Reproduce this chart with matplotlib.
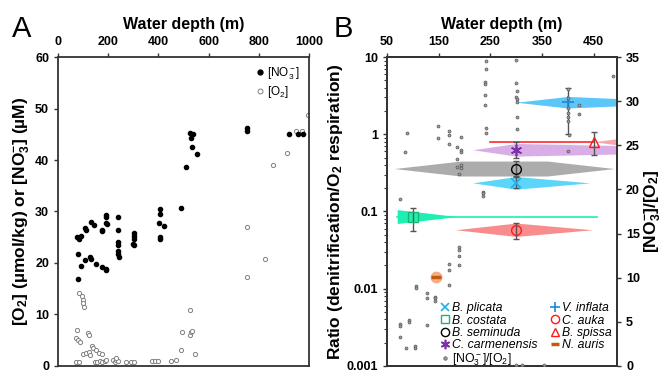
import numpy as np
import matplotlib.pyplot as plt
from matplotlib.lines import Line2D

plt.rcParams['font.family'] = ['Liberation Sans', 'DejaVu Sans']
plt.rcParams['mathtext.fontset'] = 'custom'
plt.rcParams['mathtext.rm'] = 'Liberation Sans'
plt.rcParams['mathtext.it'] = 'Liberation Sans:italic'
plt.rcParams['mathtext.bf'] = 'Liberation Sans:bold'

# ---------------- panel A data ----------------
no3_depth = [78, 78, 77, 85, 92, 92, 108, 112, 109, 127, 130, 131, 145, 151, 174, 177, 174,
             191, 193, 191, 194, 190, 193, 238, 238, 240, 241, 240, 241, 242,
             301, 303, 301, 300, 302, 405, 405, 404, 406, 405, 422, 490,
             510, 526, 537, 530, 534, 553, 753, 753, 919, 955, 977]
no3_val = [16.8, 21.7, 25.0, 24.6, 25.2, 19.5, 26.7, 26.4, 20.6, 21.2, 20.8, 27.9, 27.4, 19.8, 26.5, 26.3, 19.3,
           29.3, 29.0, 27.8, 27.5, 18.6, 18.9, 29.0, 26.4, 24.1, 23.5, 22.4, 21.7, 21.2,
           25.8, 25.2, 24.6, 23.7, 23.4, 30.4, 29.6, 27.7, 25.1, 24.6, 27.2, 30.6,
           38.6, 45.3, 45.0, 44.2, 42.5, 41.2, 46.3, 45.6, 45.0, 45.0, 45.0]

o2_depth = [858, 914, 950, 972, 996, 752, 752, 825,
            76, 71, 78, 88, 84, 96, 101, 99, 104, 73, 85, 121, 125,
            101, 110, 122, 127, 135, 141, 151, 164, 174,
            146, 157, 167, 175, 186, 191, 220, 227, 233, 240, 230,
            273, 289, 302, 373, 386, 399, 452, 469,
            492, 496, 526, 531, 534, 526, 548]
o2_val = [39.0, 41.4, 45.7, 45.6, 48.7, 27.0, 17.2, 20.7,
          6.9, 5.4, 5.1, 4.7, 14.1, 13.6, 12.9, 12.2, 11.5, 0.8, 0.7, 6.3, 6.1,
          2.3, 2.5, 2.8, 2.2, 3.8, 3.5, 3.0, 2.6, 2.4,
          0.7, 0.7, 0.9, 0.7, 0.9, 1.2, 1.2, 0.7, 1.2, 0.9, 1.5,
          0.7, 0.7, 0.7, 0.9, 0.9, 0.9, 0.9, 1.2,
          3.1, 6.5, 6.1, 6.6, 6.8, 10.8, 2.4]

# ---------------- panel B data ----------------
ratio_depth = [85, 89, 149, 149, 170, 170, 170, 193, 186, 193, 193, 186, 193, 193, 190, 186,
               242, 242, 240, 240, 240, 240, 242, 242, 235, 236, 236,
               300, 300, 301, 300, 301, 302, 302, 302,
               400, 400, 400, 400, 400, 400, 403, 400, 421, 421, 487,
               76, 76, 76, 76, 87, 93, 93, 105, 105, 106, 106, 127, 127, 127,
               144, 144, 144, 171, 171, 171, 190, 190, 190, 190, 299, 312, 353]
ratio_val = [24.2, 26.4, 27.2, 25.8, 26.6, 26.2, 25.1, 25.9, 24.8, 24.5, 24.2, 23.5, 22.8, 22.4, 21.7, 22.5,
             34.6, 33.7, 32.2, 31.9, 30.7, 29.6, 27.0, 26.4, 19.7, 19.6, 19.3,
             34.7, 32.1, 31.2, 30.5, 30.2, 29.9, 28.2, 26.8,
             31.4, 30.4, 29.2, 28.7, 28.2, 27.7, 26.2, 24.4, 29.6, 28.6, 32.9,
             18.9, 4.7, 4.5, 3.25, 2.0, 5.2, 5.0, 2.3, 2.0, 9.1, 8.8, 8.3, 7.7, 4.6,
             7.8, 7.7, 7.3, 11.6, 10.9, 9.2, 13.5, 13.1, 12.5, 11.4, 0.1, 0.1, 0.1]

species = ['B. plicata', 'B. costata', 'B. seminuda', 'C. carmenensis',
           'V. inflata', 'C. auka', 'B. spissa', 'N. auris']
sp_depth = [300, 100, 300, 300, 400, 300, 450, 145]
sp_ratio = [0.235, 0.086, 0.36, 0.63, 2.6, 0.058, 0.80, 0.0143]
sp_lo = [0.20, 0.056, 0.29, 0.50, 1.0, 0.044, 0.54, np.nan]
sp_hi = [0.28, 0.112, 0.45, 0.80, 4.0, 0.072, 1.08, np.nan]

# depth range bands (depth profile, half height in log decades)
band_depth = {
    'B. seminuda': [64, 193, 360, 490],
    'C. carmenensis': [216, 300, 900],
    'B. plicata': [216, 300, 443],
    'V. inflata': [300, 400, 665],
    'C. auka': [183, 300, 447],
    'B. costata': [70, 70, 186],
    'B. spissa': [450, 540],
}
band_half = {
    'B. seminuda': [0, 0.097, 0.097, 0],
    'C. carmenensis': [0, 0.082, 0],
    'B. plicata': [0, 0.082, 0],
    'V. inflata': [0, 0.075, 0],
    'C. auka': [0, 0.087, 0],
    'B. costata': [0, 0.09, 0],
    'B. spissa': [0, 0.08],
}
band_line = {'B. costata': [70, 457], 'B. spissa': [250, 450]}

band_color = {
    'B. seminuda': '#acacac', 'C. carmenensis': '#d9aee7', 'B. plicata': '#5bd6fa',
    'V. inflata': '#5cc6f8', 'C. auka': '#f98c8c', 'B. costata': '#1eefb2', 'B. spissa': '#f9a6a6',
}
line_color = {'B. costata': '#1eefb2', 'B. spissa': '#ff2a2a'}

marker_style = {
    'B. plicata': dict(marker='x', color='#22b0ea', ms=7, mew=1.2, mfc='none'),
    'B. costata': dict(marker='s', color='#1fb36e', ms=7, mew=1.0, mfc='none'),
    'B. seminuda': dict(marker='o', color='black', ms=7, mew=1.0, mfc='none'),
    'C. carmenensis': dict(marker=(6, 2, 0), color='#7d2fa6', ms=8, mew=1.2, mfc='none'),
    'V. inflata': dict(marker='+', color='#1f86d8', ms=8, mew=1.2, mfc='none'),
    'C. auka': dict(marker='o', color='#ff1a1a', ms=7, mew=1.0, mfc='none'),
    'B. spissa': dict(marker='^', color='#ff1a1a', ms=7, mew=1.0, mfc='none'),
    'N. auris': dict(marker='_', color='#c55a11', ms=7, mew=2.5, mfc='none'),
}

fig = plt.figure(figsize=(6.67, 3.73), dpi=100)
ax_a = fig.add_axes([0.087, 0.019, 0.376, 0.828])
ax_b = fig.add_axes([0.580, 0.019, 0.345, 0.828])

spine_c = '#333333'
tick_kw = dict(direction='out', length=3, width=1, colors=spine_c, labelcolor='black', labelsize=9)
title_fs = 11.5
ylab_fs = 12.5

# ---------------- panel A ----------------
ax_a.scatter(no3_depth, no3_val, s=9, color='black', zorder=3)
ax_a.scatter(o2_depth, o2_val, s=9, facecolor='white', edgecolor='#808080', linewidth=0.7, zorder=2)
ax_a.set_xlim(0, 1000)
ax_a.set_ylim(0, 60)
ax_a.set_xticks(range(0, 1001, 200))
ax_a.set_yticks(range(0, 61, 10))
ax_a.xaxis.tick_top()
ax_a.xaxis.set_label_position('top')
ax_a.tick_params(**tick_kw)
ax_a.set_xlabel('Water depth (m)', fontsize=title_fs, fontweight='bold', labelpad=5)
ax_a.set_ylabel(r'[O$_\mathbf{2}$] (µmol/kg) or [NO$_\mathbf{3}^\mathbf{-}$] (µM)',
                fontsize=ylab_fs, fontweight='bold', labelpad=2)
for lab in ax_a.get_xticklabels() + ax_a.get_yticklabels():
    lab.set_fontweight('bold')
for s in ax_a.spines.values():
    s.set_color(spine_c)
    s.set_linewidth(1.3)
h_a = [Line2D([], [], ls='none', marker='o', ms=3.5, color='black'),
       Line2D([], [], ls='none', marker='o', ms=3.5, mfc='white', mec='#808080', mew=0.7)]
ax_a.legend(h_a, [r'[NO$_3^-$]', r'[O$_2$]'], loc='upper right', frameon=False, fontsize=8.5,
            handlelength=0.6, handletextpad=0.3, labelspacing=0.2, borderaxespad=0.3)
fig.text(0.018, 0.9, 'A', fontsize=21)

# ---------------- panel B ----------------
ax_b.set_yscale('log')
ax_b.set_xlim(50, 495)
ax_b.set_ylim(0.001, 10)

for i, name in enumerate(species):
    c = sp_ratio[i]
    if name in band_depth:
        d = np.array(band_depth[name])
        h = np.array(band_half[name])
        ax_b.fill_between(d, c * 10 ** h, c / 10 ** h, color=band_color[name], lw=0, zorder=1)
    if name in band_line:
        ax_b.plot(band_line[name], [c, c], color=line_color[name], lw=1.2, zorder=1)

for i, name in enumerate(species):
    c = sp_ratio[i]
    if not np.isnan(sp_lo[i]):
        ax_b.errorbar([sp_depth[i]], [c], yerr=[[c - sp_lo[i]], [sp_hi[i] - c]], fmt='none',
                      ecolor='#555555', elinewidth=1, capsize=2.5, capthick=1, zorder=3)
    if name == 'N. auris':
        ax_b.plot([sp_depth[i]], [c], marker='o', ms=7.5, color='#f5a679', alpha=0.9, zorder=3)
    ax_b.plot([sp_depth[i]], [c], ls='none', zorder=4, **marker_style[name])

ax_b.set_xticks([50, 150, 250, 350, 450])
ax_b.xaxis.tick_top()
ax_b.xaxis.set_label_position('top')
ax_b.set_yticks([0.001, 0.01, 0.1, 1, 10])
ax_b.set_yticklabels(['0.001', '0.01', '0.1', '1', '10'])
ax_b.tick_params(**tick_kw)
ax_b.tick_params(which='minor', direction='out', length=2, width=0.8, colors=spine_c)
ax_b.set_xlabel('Water depth (m)', fontsize=title_fs, fontweight='bold', labelpad=5)
ax_b.set_ylabel(r'Ratio (denitrification/O$_\mathbf{2}$ respiration)', fontsize=ylab_fs,
                fontweight='bold', labelpad=1)
for lab in ax_b.get_xticklabels() + ax_b.get_yticklabels():
    lab.set_fontweight('bold')

ax_r = ax_b.twinx()
ax_r.scatter(ratio_depth, ratio_val, s=4.5, facecolor='#a0a0a0', edgecolor='#555555', linewidth=0.5,
             zorder=3, clip_on=True)
ax_r.set_ylim(0, 35)
ax_r.set_yticks(range(0, 36, 5))
ax_r.tick_params(**tick_kw)
ax_r.set_ylabel(r'[NO$_\mathbf{3}^\mathbf{-}$]/[O$_\mathbf{2}$]', fontsize=ylab_fs, fontweight='bold', labelpad=2)
for lab in ax_r.get_yticklabels():
    lab.set_fontweight('bold')
for ax in (ax_b, ax_r):
    for s in ax.spines.values():
        s.set_color(spine_c)
        s.set_linewidth(1.3)

order = ['B. plicata', 'B. costata', 'B. seminuda', 'C. carmenensis', None,
         'V. inflata', 'C. auka', 'B. spissa', 'N. auris']
handles, labels = [], []
for name in order:
    if name is None:
        handles.append(Line2D([], [], ls='none', marker='o', ms=2.5, mfc='#a0a0a0', mec='#555555', mew=0.5))
        labels.append(r'[NO$_3^-$]/[O$_2$]')
    else:
        st = dict(marker_style[name])
        st['ms'] = st['ms'] * 0.85
        handles.append(Line2D([], [], ls='none', **st))
        labels.append(name)
leg = ax_r.legend(handles, labels, ncol=2, loc='lower left', bbox_to_anchor=(0.2, -0.03),
                  frameon=False, fontsize=8.8, handlelength=0.8, handletextpad=0.2,
                  labelspacing=0.02, columnspacing=1.0, borderpad=0.1)
for t, name in zip(leg.get_texts(), order):
    if name is not None:
        t.set_style('italic')

fig.text(0.50, 0.9, 'B', fontsize=21)

fig.savefig('out.png', dpi=100)
